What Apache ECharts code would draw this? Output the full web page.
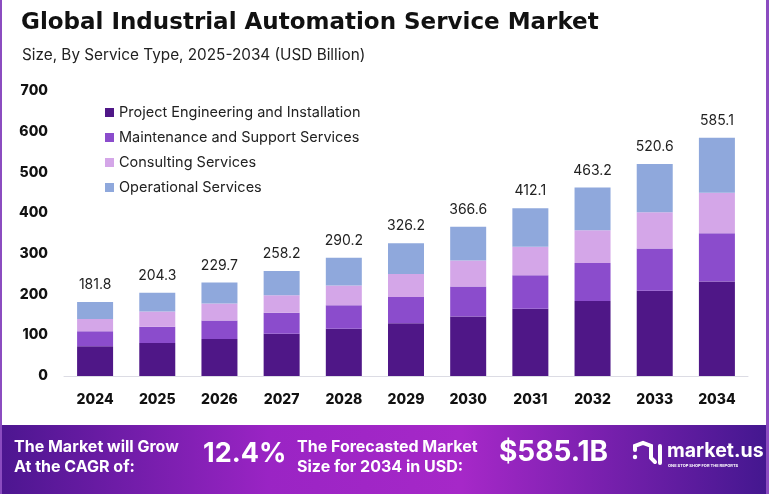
<!DOCTYPE html>
<html>
<head>
<meta charset="utf-8">
<script src="https://cdn.jsdelivr.net/npm/echarts@6/dist/echarts.min.js"></script>
<style>
  html, body { margin: 0; padding: 0; background: #fff; }
  #main { width: 769px; height: 494px; }
</style>
</head>
<body>
<div id="main"></div>
<script>
var years = ['2024', '2025', '2026', '2027', '2028', '2029', '2030', '2031', '2032', '2033', '2034']
var projectEng = [72.8, 80.9, 91.0, 103.5, 116.1, 129.8, 146.4, 164.9, 184.3, 209.3, 232.4]
var maintenance = [37.1, 40.3, 45.4, 52.1, 57.9, 64.0, 73.7, 82.3, 93.0, 103.8, 118.2]
var consulting = [30.4, 37.1, 41.4, 43.0, 48.2, 56.7, 63.8, 70.2, 80.5, 89.0, 99.2]
var operational = [41.5, 46.0, 51.9, 59.6, 68.0, 75.7, 82.7, 94.7, 105.4, 118.5, 135.3]
var totals = ['181.8', '204.3', '229.7', '258.2', '290.2', '326.2', '366.6', '412.1', '463.2', '520.6', '585.1']
var yTicks = [0, 100, 200, 300, 400, 500, 600, 700]

var colors = ['#4f1787', '#8b4ccc', '#d4a6e8', '#8fa8dc']
var font = 'Inter'

var myChart = echarts.init(document.getElementById('main'))
var option

function mkSeries (name, data, idx) {
  var s = {
    name: name,
    type: 'bar',
    stack: 'total',
    barWidth: 36,
    data: data,
    itemStyle: { color: colors[idx] }
  }
  // totals go on top of the last stack
  if (idx === 3) {
    s.label = {
      show: true,
      position: 'top',
      distance: 10,
      color: '#222',
      fontFamily: font,
      fontSize: 14,
      formatter: function (p) { return totals[p.dataIndex] }
    }
  }
  return s
}

option = {
  backgroundColor: '#fff',
  animation: false,
  title: [
    {
      text: 'Global Industrial Automation Service Market',
      left: 16,
      top: 7,
      textStyle: { fontFamily: 'DejaVu Sans', fontWeight: 'bold', fontSize: 23, color: '#111' }
    },
    {
      text: 'Size, By Service Type, 2025-2034 (USD Billion)',
      left: 17,
      top: 43,
      textStyle: { fontFamily: font, fontWeight: 'normal', fontSize: 15.3, color: '#222' }
    }
  ],
  legend: {
    orient: 'vertical',
    left: 100,
    top: 100,
    itemWidth: 9,
    itemHeight: 9,
    itemGap: 10,
    icon: 'rect',
    textStyle: { fontFamily: font, fontSize: 14.5, color: '#222' },
    data: ['Project Engineering and Installation', 'Maintenance and Support Services', 'Consulting Services', 'Operational Services']
  },
  grid: { left: 64, right: 21, top: 91, bottom: 118 },
  xAxis: {
    type: 'category',
    data: years,
    axisTick: { show: false },
    axisLine: { lineStyle: { color: '#dcdce4' } },
    axisLabel: { margin: 17, fontFamily: font, fontWeight: 800, fontSize: 14, color: '#111' }
  },
  yAxis: {
    type: 'value',
    min: yTicks[0],
    max: yTicks[yTicks.length - 1],
    interval: 100,
    splitLine: { show: false },
    axisLine: { show: false },
    axisLabel: { margin: 16, fontFamily: font, fontWeight: 800, fontSize: 14, color: '#111' }
  },
  series: [
    mkSeries('Project Engineering and Installation', projectEng, 0),
    mkSeries('Maintenance and Support Services', maintenance, 1),
    mkSeries('Consulting Services', consulting, 2),
    mkSeries('Operational Services', operational, 3)
  ],
  graphic: [
    // frame sides
    { type: 'rect', shape: { x: 0, y: 0, width: 2, height: 494 }, style: { fill: '#8b4cc0' }, z: 10 },
    { type: 'rect', shape: { x: 766, y: 0, width: 3, height: 494 }, style: { fill: '#8b4cc0' }, z: 10 },
    // bottom banner
    {
      type: 'rect',
      shape: { x: 0, y: 425, width: 769, height: 69 },
      style: {
        fill: new echarts.graphic.LinearGradient(0, 0, 1, 0, [
          { offset: 0, color: '#4c1690' },
          { offset: 0.35, color: '#9a24c4' },
          { offset: 0.6, color: '#a628c8' },
          { offset: 1, color: '#43178f' }
        ])
      },
      z: 5
    },
    { type: 'text', left: 14, top: 437, z: 11, style: { text: 'The Market will Grow\nAt the CAGR of:', fill: '#fff', font: 'bold 16px ' + font, lineHeight: 20 } },
    { type: 'text', left: 203, top: 440, z: 11, style: { text: '12.4%', fill: '#fff', font: 'bold 27px ' + font } },
    { type: 'text', left: 297, top: 437, z: 11, style: { text: 'The Forecasted Market\nSize for 2034 in USD:', fill: '#fff', font: 'bold 16px ' + font, lineHeight: 20 } },
    { type: 'text', left: 499, top: 439, z: 11, style: { text: '$585.1B', fill: '#fff', font: 'bold 28px ' + font } },
    // logo mark
    { type: 'polyline', z: 11, shape: { points: [[635, 450], [635, 446], [643, 443], [651, 446], [651, 458], [655, 462]] }, style: { stroke: '#fff', lineWidth: 4, fill: null, lineCap: 'round' } },
    { type: 'line', z: 11, shape: { x1: 660, y1: 446, x2: 660, y2: 463 }, style: { stroke: '#fff', lineWidth: 4, lineCap: 'round' } },
    { type: 'circle', z: 11, shape: { cx: 635, cy: 457, r: 2.2 }, style: { fill: '#fff' } },
    { type: 'text', left: 667, top: 441, z: 11, style: { text: 'market.us', fill: '#fff', font: 'bold 19.5px ' + font } },
    { type: 'text', left: 668, top: 464, z: 11, style: { text: 'ONE STOP SHOP FOR THE REPORTS', fill: '#fff', font: 'bold 4px ' + font } }
  ]
}

option && myChart.setOption(option)
</script>
</body>
</html>
